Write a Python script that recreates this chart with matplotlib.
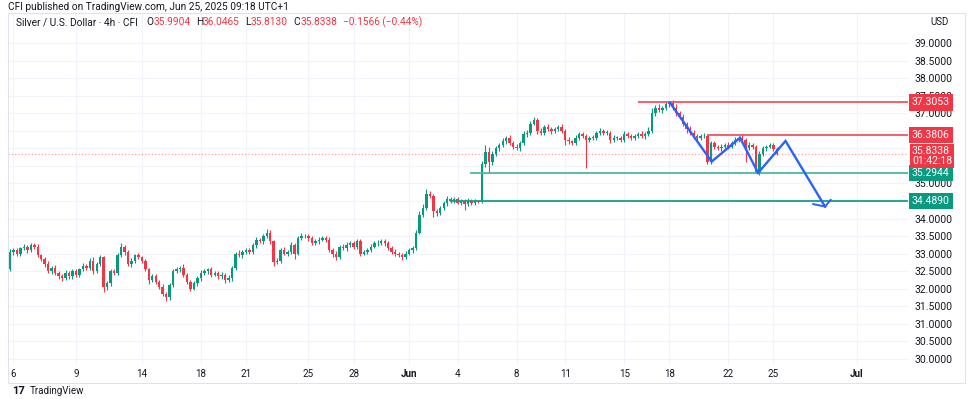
import matplotlib
matplotlib.use("Agg")
import numpy as np
import matplotlib.pyplot as plt
from matplotlib import transforms
from matplotlib.patches import Rectangle

plt.rcParams['font.family'] = ['Roboto', 'DejaVu Sans']

# 4h candles, silver / usd (bar index -> price), open of each bar = previous close
first_open = 32.55
closes = [
    33.05, 33.10, 33.00, 33.15, 33.20, 33.10, 33.25, 33.20, 32.95, 32.85,
    32.70, 32.50, 32.60, 32.45, 32.35, 32.30, 32.45, 32.35, 32.50, 32.40,
    32.55, 32.65, 32.60, 32.80, 32.50, 32.70, 32.90, 32.05, 32.15, 32.50,
    32.45, 32.95, 33.20, 33.05, 32.70, 32.80, 32.95, 32.90, 32.80, 32.55,
    32.25, 32.35, 32.20, 32.05, 31.85, 31.75, 32.10, 32.50, 32.55, 32.60,
    32.40, 32.20, 32.00, 32.15, 32.30, 32.45, 32.50, 32.55, 32.40, 32.45,
    32.35, 32.40, 32.25, 32.30, 32.60, 33.00, 32.95, 33.05, 33.10, 33.05,
    33.25, 33.40, 33.35, 33.50, 33.60, 33.35, 32.75, 32.80, 33.10, 33.00,
    33.05, 33.25, 33.00, 33.45, 33.50, 33.50, 33.45, 33.30, 33.35, 33.40,
    33.45, 33.40, 33.10, 33.00, 32.90, 33.20, 33.15, 33.25, 33.30, 33.20,
    33.35, 33.00, 33.05, 33.10, 33.20, 33.30, 33.30, 33.35, 33.30, 33.15,
    33.05, 33.00, 32.95, 32.90, 33.00, 33.10, 33.15, 33.60, 34.10, 34.30,
    34.70, 34.65, 34.20, 34.15, 34.30, 34.45, 34.55, 34.50, 34.55, 34.45,
    34.50, 34.40, 34.50, 34.45, 34.50, 34.48, 35.55, 35.90, 35.60, 35.85,
    36.00, 36.10, 36.20, 36.30, 36.15, 36.05, 36.00, 36.15, 36.40, 36.45,
    36.70, 36.80, 36.50, 36.45, 36.60, 36.55, 36.50, 36.55, 36.60, 36.50,
    36.25, 36.20, 36.15, 36.30, 36.40, 36.35, 36.25, 36.30, 36.30, 36.45,
    36.50, 36.45, 36.45, 36.25, 36.30, 36.30, 36.25, 36.40, 36.35, 36.30,
    36.35, 36.40, 36.35, 36.40, 36.50, 37.00, 37.15, 37.10, 37.15, 37.25,
    37.30, 37.15, 37.00, 36.90, 36.70, 36.55, 36.45, 36.35, 36.30, 36.35,
    36.35, 35.60, 36.15, 36.05, 36.00, 36.05, 36.10, 36.05, 36.15, 36.25,
    36.30, 36.25, 36.00, 36.10, 36.05, 35.30, 35.85, 36.00, 36.05, 36.10,
    35.99, 35.8338,
]
# wick lengths in cents above / below the body
wick_up = [
    8, 5, 6, 4, 7, 5, 6, 4, 8, 5,
    6, 9, 5, 7, 4, 6, 8, 5, 6, 7,
    5, 8, 6, 7, 9, 5, 6, 4, 8, 5,
    7, 6, 9, 5, 6, 8, 5, 7, 4, 6,
    5, 7, 6, 4, 8, 5, 6, 5, 7, 6,
    9, 5, 6, 8, 5, 7, 6, 4, 8, 5,
    6, 7, 5, 8, 6, 5, 9, 6, 7, 5,
    6, 8, 5, 7, 10, 6, 5, 7, 6, 8,
    5, 7, 6, 5, 8, 6, 7, 5, 6, 8,
    6, 5, 8, 6, 7, 5, 6, 8, 5, 7,
    6, 8, 5, 7, 6, 5, 8, 6, 7, 5,
    6, 7, 5, 6, 8, 5, 6, 7, 10, 12,
    15, 8, 6, 7, 5, 6, 8, 5, 6, 7,
    5, 6, 7, 5, 6, 4, 10, 20, 15, 8,
    7, 6, 8, 5, 7, 6, 8, 6, 10, 8,
    7, 8, 6, 7, 5, 8, 6, 7, 5, 8,
    6, 7, 5, 8, 6, 7, 5, 6, 8, 5,
    7, 6, 8, 5, 7, 6, 5, 8, 6, 7,
    5, 6, 8, 7, 10, 15, 8, 10, 6, 7,
    5, 8, 10, 7, 8, 6, 9, 7, 6, 5,
    8, 5, 6, 7, 5, 8, 6, 7, 5, 8,
    6, 7, 5, 8, 6, 5, 7, 6, 5, 6,
    5, 6,
]
wick_dn = [
    5, 8, 6, 7, 5, 9, 6, 8, 5, 7,
    8, 6, 9, 7, 6, 8, 5, 7, 6, 8,
    6, 5, 7, 6, 8, 5, 6, 15, 8, 6,
    5, 7, 6, 8, 5, 7, 6, 5, 8, 6,
    12, 6, 8, 7, 6, 10, 8, 6, 5, 7,
    6, 8, 7, 5, 6, 8, 5, 7, 6, 5,
    7, 6, 8, 5, 7, 6, 5, 8, 6, 7,
    5, 8, 6, 7, 5, 8, 10, 6, 7, 5,
    8, 6, 15, 5, 7, 6, 8, 5, 6, 7,
    5, 8, 6, 10, 7, 5, 6, 8, 5, 7,
    6, 8, 5, 7, 6, 5, 8, 6, 7, 5,
    6, 7, 5, 8, 6, 5, 7, 6, 5, 7,
    6, 8, 15, 7, 6, 5, 8, 6, 7, 5,
    6, 15, 5, 7, 6, 5, 5, 8, 30, 7,
    6, 8, 5, 7, 6, 8, 5, 7, 6, 8,
    6, 5, 8, 6, 7, 5, 8, 6, 7, 5,
    15, 8, 6, 7, 5, 6, 80, 7, 6, 5,
    8, 6, 7, 10, 6, 5, 8, 6, 7, 5,
    6, 7, 5, 8, 6, 5, 7, 6, 8, 5,
    6, 5, 8, 6, 7, 10, 6, 8, 5, 7,
    6, 5, 6, 8, 5, 7, 6, 8, 5, 6,
    7, 5, 40, 6, 8, 1, 5, 6, 7, 5,
    6, 2,
]

tick_bars = [1, 19, 38, 55, 68, 86, 99, 115, 129, 146, 160, 177, 190, 207, 220, 244]
tick_labels = ['6', '9', '14', '18', '21', '25', '28', 'Jun', '4', '8', '11', '15', '18', '22', '25', 'Jul']

levels = [37.3053, 36.3806, 35.2944, 34.4890]
level_start = [181, 201, 132.6, 126.8]
level_line_col = ['#f7525f', '#f7525f', '#4cb8a4', '#12a08a']
level_tag_col = ['#f23645', '#f23645', '#0a9c80', '#089981']

last_price = 35.8338
countdown = '01:42:18'

# projected zig-zag (blue)
path_bars = [190.2, 202.2, 210.4, 215.6, 223.5, 234.9]
path_prices = [37.30, 35.62, 36.30, 35.30, 36.21, 34.34]
head_bars = [231.5, 234.9, 236.5]
head_prices = [34.41, 34.34, 34.53]

GREEN = '#089981'
RED = '#f23645'
TXT = '#131722'

W, H = 975, 399
fig = plt.figure(figsize=(W / 100, H / 100), dpi=100)
ax = fig.add_axes([8 / W, 1 - 365 / H, 900 / W, 352 / H])
ax.set_xlim(-0.576, 258.8)
ax.set_ylim(29.826, 39.855)
for s in ax.spines.values():
    s.set_visible(False)

# candles
n = len(closes)
x = np.arange(n)
opens = [first_open] + closes[:-1]
cols = []
bottoms = []
heights = []
highs = []
lows = []
for o, c, u, d in zip(opens, closes, wick_up, wick_dn):
    cols.append(GREEN if c >= o else RED)
    bottoms.append(min(o, c))
    heights.append(max(abs(c - o), 0.012))
    highs.append(max(o, c) + u / 100)
    lows.append(min(o, c) - d / 100)
ax.vlines(x, lows, highs, colors=cols, lw=0.8, zorder=3)
ax.bar(x, heights, bottom=bottoms, width=0.7, color=cols, linewidth=0, zorder=4)

# grid + axes ticks (labels hidden by the 35.29 / 34.49 tags are left out, like TradingView does)
yt = np.arange(30, 39.01, 0.5)
ax.set_yticks(yt)
ax.set_yticklabels(['' if v in (35.5, 34.5) else '%.4f' % v for v in yt])
ax.set_xticks(tick_bars, tick_labels)
ax.grid(color='#f0f3fa', lw=0.8, zorder=0)
ax.yaxis.tick_right()
ax.tick_params(axis='y', length=0, pad=5, labelsize=7.5, labelcolor=TXT)
ax.tick_params(axis='x', length=0, pad=3.2, labelsize=7, labelcolor=TXT)
for lab in ax.get_xticklabels():
    if lab.get_text() in ('Jun', 'Jul'):
        lab.set_fontweight('bold')

# level lines
xr = ax.get_xlim()[1]
for lv, st, lc in zip(levels, level_start, level_line_col):
    ax.hlines(lv, st, xr, colors=lc, lw=1.3, zorder=5)
ax.axhline(last_price, color=RED, lw=0.8, ls=(0, (1, 2)), alpha=0.55, zorder=2)

# projection
ax.plot(path_bars, path_prices, color='#2962ff', lw=1.7, zorder=6, solid_joinstyle='miter')
ax.plot(head_bars, head_prices, color='#2962ff', lw=1.4, zorder=6)

# price tags
trans = transforms.blended_transform_factory(fig.transFigure, ax.transData)
for lv, tc in zip(levels, level_tag_col):
    ax.text(912 / W, lv, '%.4f' % lv, transform=trans, ha='left', va='center',
            fontsize=7.5, color='white', zorder=10, clip_on=False,
            bbox=dict(boxstyle='square,pad=0.3', fc=tc, ec='none'))
ax.text(912 / W, last_price - 0.06, '%.4f\n%s' % (last_price, countdown), transform=trans,
        ha='left', va='center', fontsize=7.5, color='white', zorder=11, clip_on=False,
        linespacing=0.95, bbox=dict(boxstyle='square,pad=0.22', fc=RED, ec='none'))

# header
fig.text(8 / W, 1 - 7 / H, 'CFI published on TradingView.com, Jun 25, 2025 09:18 UTC+1',
         fontsize=7.3, color=TXT, va='center', ha='left')
segs = [('O', TXT, 6), ('35.9904', RED, 0), ('H', TXT, 4), ('36.0465', RED, 0),
        ('L', TXT, 4), ('35.8130', RED, 0), ('C', TXT, 4), ('35.8338', RED, 0),
        ('\u22120.1566 (\u22120.44%)', RED, 4)]
prev = fig.text(16 / W, 1 - 22 / H, 'Silver / U.S. Dollar \u00b7 4h \u00b7 CFI',
                fontsize=7.3, color=TXT, va='center', ha='left')
for s, c, gap in segs:
    prev = ax.annotate(s, xy=(1, 0.5), xycoords=prev, xytext=(gap, 0),
                       textcoords='offset points', ha='left', va='center',
                       fontsize=7.3, color=c, annotation_clip=False)
fig.text(930 / W, 1 - 22 / H, 'USD', fontsize=7, color=TXT, va='center', ha='left')

# frame
fig.add_artist(Rectangle((8 / W, 1 - 383 / H), 957 / W, 370 / H, transform=fig.transFigure,
                         fill=False, ec='#e0e3eb', lw=0.8))

# footer logo
fig.text(12 / W, 1 - 391 / H, '17', fontsize=8, fontweight='bold', color=TXT, va='center')
fig.text(30 / W, 1 - 391 / H, 'TradingView', fontsize=7, color=TXT, va='center')

fig.savefig('out.png', dpi=100, facecolor='white')
